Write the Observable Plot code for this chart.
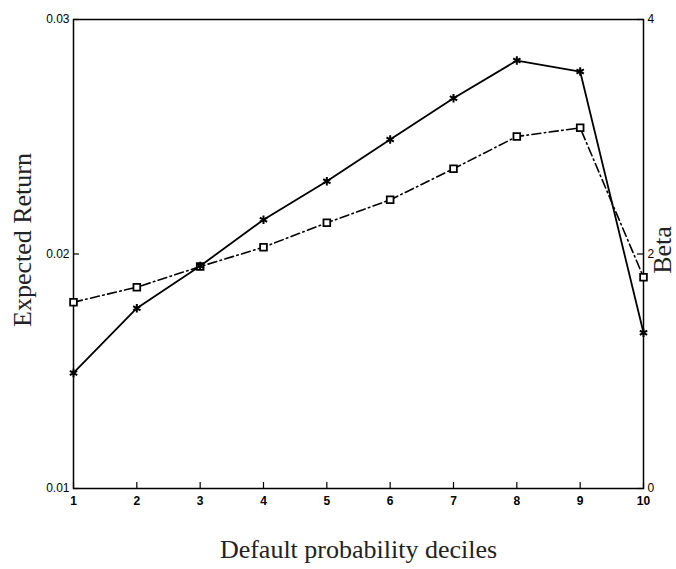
<!DOCTYPE html>
<html><head><meta charset="utf-8">
<script src="https://cdn.jsdelivr.net/npm/d3@7"></script>
<script src="https://cdn.jsdelivr.net/npm/@observablehq/plot@0.6"></script>
<style>body{margin:0;background:#fff}</style>
</head><body><div id="chart"></div>
<script>
const deciles = [1,2,3,4,5,6,7,8,9,10];
const expectedReturn = [0.01493,0.01769,0.01949,0.02146,0.02310,0.02488,0.02664,0.02825,0.02778,0.01664];
const beta = [1.589,1.717,1.893,2.058,2.266,2.462,2.727,3.002,3.076,1.802];
const leftTicks = [0.01,0.02,0.03];
const rightTicks = [0,2,4];
const xTicks = [1,2,3,4,5,6,7,8,9,10];
const retDomain = [0.01,0.03];
const betaDomain = [0,4];

const toLeft = b => retDomain[0] + (b - betaDomain[0])/(betaDomain[1]-betaDomain[0])*(retDomain[1]-retDomain[0]);
const ret = deciles.map((d,i)=>({decile:d, value:expectedReturn[i]}));
const bet = deciles.map((d,i)=>({decile:d, value:toLeft(beta[i])}));
const rightTickPos = rightTicks.map(toLeft);
const rightLabel = v => { const i = rightTickPos.findIndex(p => Math.abs(p - v) < 1e-9); return i < 0 ? "" : String(rightTicks[i]); };

const W=676, H=569, mL=73, mR=33, mT=19, mB=81;
const plotW = W-mL-mR, plotH = H-mT-mB, tk = 6;
const serif = "'Liberation Serif', 'DejaVu Serif', serif";

const chart = Plot.plot({
  width: W, height: H, marginLeft: mL, marginRight: mR, marginTop: mT, marginBottom: mB,
  style: {background: "white", fontFamily: "'Liberation Sans', Arial, sans-serif", fontSize: "12px", color: "black", overflow: "visible"},
  x: {domain: [1,10]},
  y: {domain: retDomain},
  marks: [
    Plot.tickX(xTicks, {x: d=>d, insetTop: plotH - tk, stroke: "black", strokeWidth: 1.2}),
    Plot.tickY(leftTicks, {y: d=>d, insetRight: plotW - tk, stroke: "black", strokeWidth: 1.2}),
    Plot.tickY(rightTickPos, {y: d=>d, insetLeft: plotW - tk, stroke: "black", strokeWidth: 1.2}),
    Plot.frame({stroke: "black", strokeWidth: 1.5}),
    Plot.axisX(xTicks, {tickSize: 0, tickPadding: 8, fontWeight: "bold", fontSize: 12, tickFormat: d => String(d), label: null}),
    Plot.axisY(leftTicks, {anchor: "left", tickSize: 0, tickPadding: 4, fontSize: 12, tickFormat: d => d.toFixed(2), label: null}),
    Plot.axisY(rightTickPos, {anchor: "right", tickSize: 0, tickPadding: 4, fontSize: 12, tickFormat: rightLabel, label: null}),
    Plot.line(bet, {x: "decile", y: "value", stroke: "black", strokeWidth: 1.6, strokeDasharray: "9,3.5,1.5,3.5"}),
    Plot.line(ret, {x: "decile", y: "value", stroke: "black", strokeWidth: 1.8}),
    Plot.dot(bet, {x: "decile", y: "value", symbol: "square", r: 3.8, stroke: "black", fill: "white", strokeWidth: 1.8}),
    Plot.dot(ret, {x: "decile", y: "value", symbol: "asterisk", r: 4, stroke: "black", strokeWidth: 2}),
    Plot.text(["Expected Return"], {frameAnchor: "left", textAnchor: "middle", rotate: -90, dx: -51, dy: -14, fontSize: 26, fontFamily: serif, fill: "#222"}),
    Plot.text(["Beta"], {frameAnchor: "right", textAnchor: "middle", rotate: -90, dx: 19, dy: -4, fontSize: 26, fontFamily: serif, fill: "#222"}),
    Plot.text(["Default probability deciles"], {frameAnchor: "bottom", textAnchor: "middle", dy: 69, fontSize: 26, fontFamily: serif, fill: "#222"})
  ]
});
document.getElementById("chart").appendChild(chart);
</script>
</body></html>
